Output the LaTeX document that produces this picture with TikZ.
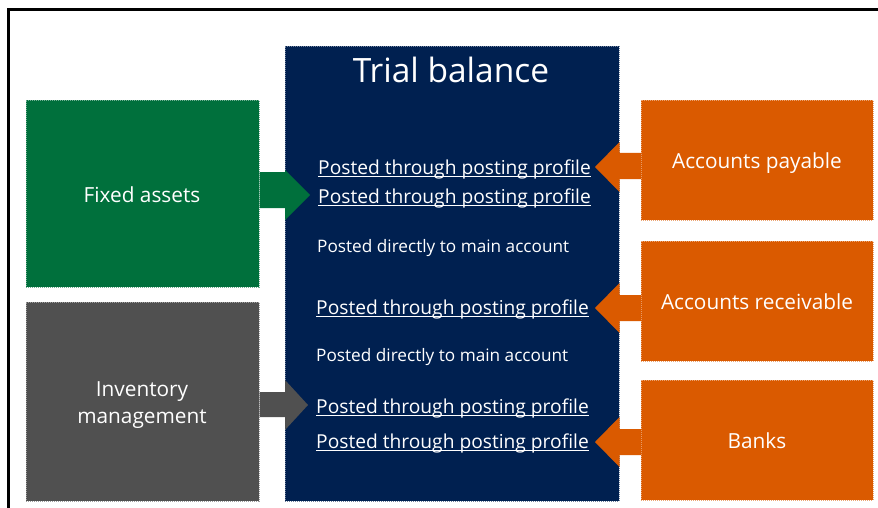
\documentclass[tikz,border=0pt]{standalone}
\usepackage{fontspec}
\setmainfont{Open Sans}
\definecolor{navy}{HTML}{002050}
\definecolor{fagreen}{HTML}{00703C}
\definecolor{imgray}{HTML}{505050}
\definecolor{orng}{HTML}{DA5A00}
\newcommand\ulx[1]{\setbox0\hbox{#1}\rlap{\rule[-3pt]{\wd0}{1.1pt}}\box0}
\tikzset{
  box/.style={rectangle, inner sep=0pt, anchor=north west, fill=#1, draw=#1!55!white,
    dash pattern=on 1pt off 1pt, line width=0.5pt},
  boxlabel/.style={anchor=base, inner sep=0pt, text=white, font=\fontsize{20.8}{27}\selectfont},
  ultext/.style={anchor=base west, inner sep=0pt, text=white, font=\fontsize{19.2}{22}\selectfont},
  dirtext/.style={anchor=base west, inner sep=0pt, text=white, font=\fontsize{17.2}{20}\selectfont},
}
\begin{document}
\begin{tikzpicture}[x=1pt,y=-1pt]
\useasboundingbox (0,0) rectangle (878,508);
\fill[white] (0,0) rectangle (878,508);
\draw[line width=2.7pt] (8.7,508) -- (8.7,9.5) -- (878,9.5);

\node[box=navy, minimum width=334pt, minimum height=455pt] (tb) at (285,46) {};
\node[box=fagreen, minimum width=233pt, minimum height=187pt] (fa) at (26,100) {};
\node[box=imgray, minimum width=233pt, minimum height=199pt] (im) at (26,302) {};
\node[box=orng, minimum width=232pt, minimum height=120pt] (ap) at (641,100) {};
\node[box=orng, minimum width=232pt, minimum height=120pt] (ar) at (641,241) {};
\node[box=orng, minimum width=232pt, minimum height=120pt] (bk) at (641,380) {};

\node[boxlabel] (fat) at (142,202) {Fixed assets};
\node[boxlabel] (imt1) at (142,396) {Inventory};
\node[boxlabel] (imt2) at (142,423) {management};
\node[boxlabel] (apt) at (757,168) {Accounts payable};
\node[boxlabel] (art) at (757,309) {Accounts receivable};
\node[boxlabel] (bkt) at (757,448) {Banks};

\node[anchor=base, inner sep=0pt, text=white, font=\fontsize{33.5}{38}\selectfont] (title) at (451,83) {Trial balance};

\node[ultext] (l1) at (318,174) {\ulx{Posted through posting profile}};
\node[ultext] (l2) at (318,203) {\ulx{Posted through posting profile}};
\node[dirtext] (d1) at (317,252) {Posted directly to main account};
\node[ultext] (l3) at (316,314) {\ulx{Posted through posting profile}};
\node[dirtext] (d2) at (316,361) {Posted directly to main account};
\node[ultext] (l4) at (316,413) {\ulx{Posted through posting profile}};
\node[ultext] (l5) at (316,448) {\ulx{Posted through posting profile}};

% block arrows
\fill[fagreen] (fa.east |- 0,172) -- (tb.west |- 0,172) -- (tb.west |- 0,170) -- (310,195)
  -- (tb.west |- 0,220) -- (tb.west |- 0,208) -- (fa.east |- 0,208) -- cycle;
\fill[imgray] (im.east |- 0,392) -- (tb.west |- 0,392) -- (tb.west |- 0,380) -- (308,405)
  -- (tb.west |- 0,430) -- (tb.west |- 0,417) -- (im.east |- 0,417) -- cycle;
\fill[orng] (ap.west |- 0,153) -- (tb.east |- 0,153) -- (tb.east |- 0,142) -- (595,167)
  -- (tb.east |- 0,192) -- (tb.east |- 0,179) -- (ap.west |- 0,179) -- cycle;
\fill[orng] (ar.west |- 0,295) -- (tb.east |- 0,295) -- (tb.east |- 0,283) -- (595,308)
  -- (tb.east |- 0,333) -- (tb.east |- 0,321) -- (ar.west |- 0,321) -- cycle;
\fill[orng] (bk.west |- 0,429) -- (tb.east |- 0,429) -- (tb.east |- 0,417) -- (595,442)
  -- (tb.east |- 0,467) -- (tb.east |- 0,455) -- (bk.west |- 0,455) -- cycle;
\end{tikzpicture}
\end{document}
